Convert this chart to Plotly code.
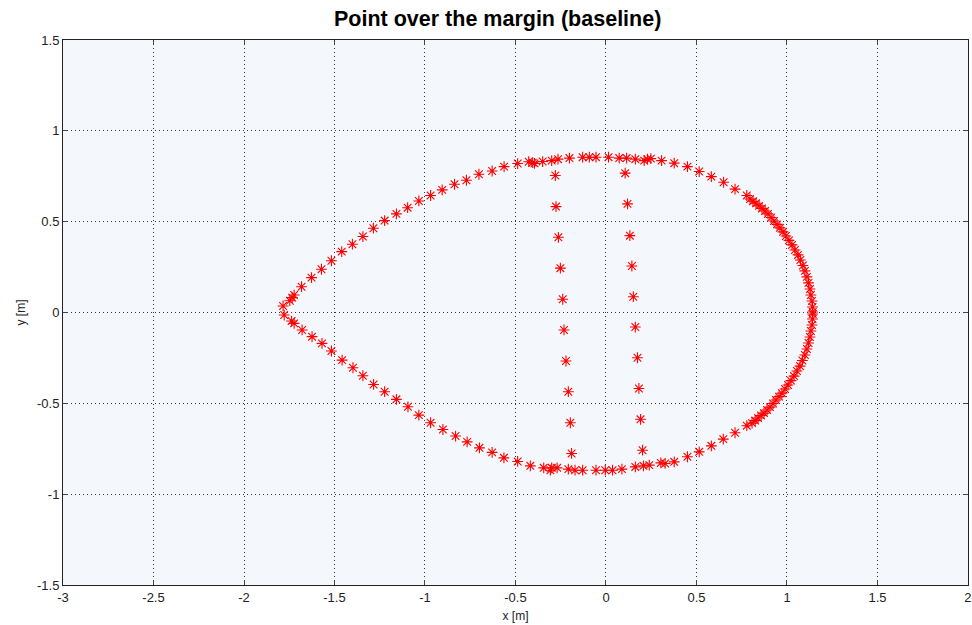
import plotly.graph_objects as go

# Outer boundary of the margin region, upper branch (tip -> top -> right)
upper_x = [-1.784, -1.747, -1.734, -1.723, -1.682, -1.627, -1.572, -1.517, -1.460, -1.401,
           -1.343, -1.285, -1.223, -1.158, -1.096, -1.034, -0.969, -0.905, -0.837, -0.771,
           -0.702, -0.629, -0.563, -0.488, -0.427, -0.405, -0.395, -0.350, -0.300, -0.265,
           -0.202, -0.129, -0.092, -0.055, 0.014, 0.073, 0.114, 0.162, 0.211, 0.229,
           0.248, 0.307, 0.377, 0.450, 0.515, 0.582, 0.650, 0.713, 0.778,
           0.796, 0.812, 0.829, 0.846, 0.862, 0.879, 0.895, 0.912, 0.928, 0.945,
           0.961, 0.978, 0.994, 1.011, 1.028, 1.044, 1.061, 1.074, 1.088, 1.099,
           1.110, 1.119, 1.127, 1.132, 1.138, 1.141, 1.142]
upper_y = [0.036, 0.065, 0.082, 0.096, 0.142, 0.192, 0.238, 0.285, 0.335, 0.376,
           0.418, 0.464, 0.506, 0.543, 0.577, 0.614, 0.644, 0.675, 0.706, 0.728,
           0.761, 0.779, 0.803, 0.820, 0.830, 0.825, 0.821, 0.831, 0.836, 0.844,
           0.850, 0.855, 0.855, 0.855, 0.855, 0.850, 0.850, 0.844, 0.836, 0.844,
           0.847, 0.836, 0.822, 0.803, 0.776, 0.748, 0.717, 0.679, 0.644,
           0.625, 0.612, 0.601, 0.587, 0.573, 0.559, 0.543, 0.523, 0.504, 0.485,
           0.466, 0.444, 0.421, 0.397, 0.372, 0.344, 0.317, 0.289, 0.259, 0.229,
           0.196, 0.163, 0.129, 0.096, 0.063, 0.030, 0.003]

# Lower branch (right -> bottom -> tip)
lower_x = [1.142, 1.141, 1.138, 1.132, 1.127, 1.119, 1.110, 1.099, 1.085, 1.072,
           1.055, 1.039, 1.022, 1.006, 0.989, 0.972, 0.956, 0.939, 0.923, 0.906,
           0.890, 0.873, 0.857, 0.840, 0.824, 0.807,
           0.778, 0.713, 0.648, 0.582, 0.515, 0.450, 0.377, 0.327, 0.303, 0.239,
           0.207, 0.162, 0.088, 0.036, -0.004, -0.055, -0.129, -0.171, -0.208, -0.270,
           -0.300, -0.307, -0.344, -0.418, -0.488, -0.564, -0.629, -0.699, -0.767, -0.831,
           -0.901, -0.969, -1.034, -1.094, -1.158, -1.223, -1.284, -1.343, -1.398, -1.458,
           -1.517, -1.569, -1.624, -1.679, -1.723, -1.737, -1.778]
lower_y = [-0.008, -0.036, -0.069, -0.102, -0.135, -0.168, -0.201, -0.234, -0.264, -0.295,
           -0.322, -0.350, -0.375, -0.399, -0.421, -0.444, -0.463, -0.482, -0.501, -0.521,
           -0.537, -0.554, -0.567, -0.581, -0.595, -0.609,
           -0.623, -0.662, -0.697, -0.734, -0.767, -0.794, -0.822, -0.831, -0.828, -0.840,
           -0.844, -0.850, -0.862, -0.868, -0.868, -0.868, -0.868, -0.868, -0.862, -0.855,
           -0.855, -0.868, -0.855, -0.844, -0.820, -0.800, -0.770, -0.745, -0.712, -0.680,
           -0.644, -0.607, -0.565, -0.519, -0.478, -0.436, -0.396, -0.348, -0.304, -0.262,
           -0.212, -0.170, -0.133, -0.096, -0.060, -0.047, -0.014]

# Two inner vertical rows of points
left_col_x = [-0.280, -0.276, -0.263, -0.252, -0.239, -0.232, -0.221, -0.208, -0.197, -0.190]
left_col_y = [0.754, 0.583, 0.414, 0.244, 0.073, -0.096, -0.267, -0.436, -0.607, -0.776]
right_col_x = [0.106, 0.119, 0.132, 0.143, 0.151, 0.162, 0.174, 0.182, 0.191, 0.202]
right_col_y = [0.767, 0.598, 0.423, 0.256, 0.087, -0.080, -0.249, -0.418, -0.588, -0.758]

x_ticks = [-3, -2.5, -2, -1.5, -1, -0.5, 0, 0.5, 1, 1.5, 2]
y_ticks = [-1.5, -1, -0.5, 0, 0.5, 1, 1.5]

xs = upper_x + lower_x + left_col_x + right_col_x
ys = upper_y + lower_y + left_col_y + right_col_y

FONT = "Liberation Sans, Arial, sans-serif"

fig = go.Figure()
fig.add_trace(go.Scatter(
    x=xs, y=ys, mode="markers",
    marker=dict(symbol="asterisk-open", size=9, color="red",
                line=dict(color="red", width=1.1)),
    showlegend=False, hoverinfo="x+y",
))

axis_common = dict(
    showgrid=True, gridcolor="#333333", griddash="1px,3px", gridwidth=1,
    showline=True, linecolor="#222", linewidth=1, mirror="ticks",
    ticks="inside", ticklen=5, tickcolor="#444",
    tickfont=dict(family=FONT, size=13, color="#222"),
    zeroline=False, ticklabeloverflow="allow", automargin=False,
)

fig.update_xaxes(range=[-3, 2.0001], tickvals=x_ticks,
                 ticktext=[f"{v:g}" for v in x_ticks],
                 title=dict(text="x [m]", standoff=8,
                            font=dict(family=FONT, size=12, color="#222")),
                 **axis_common)
fig.update_yaxes(range=[-1.5, 1.5], tickvals=y_ticks,
                 ticktext=[f"{v:g}" for v in y_ticks],
                 title=dict(text="y [m]", standoff=8,
                            font=dict(family=FONT, size=12, color="#222")),
                 **axis_common)

fig.update_layout(
    width=972, height=625,
    margin=dict(l=63, r=4, t=40, b=40),
    paper_bgcolor="white", plot_bgcolor="#f4f8fc",
    title=dict(text="<b>Point over the margin (baseline)</b>", x=0.512, xanchor="center",
               y=0.971, yanchor="middle",
               font=dict(family=FONT, size=21.5, color="black")),
)

fig.write_html("out.html")
